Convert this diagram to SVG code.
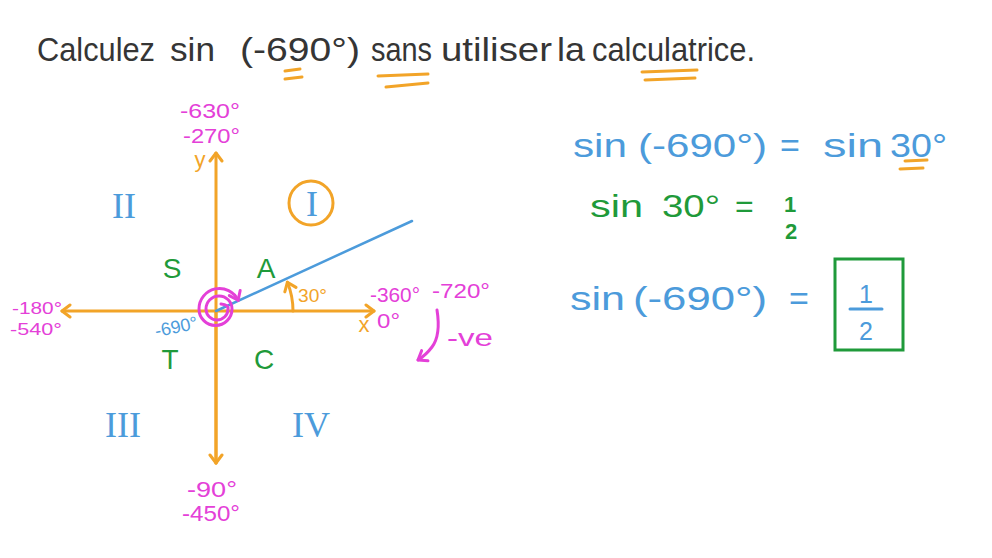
<svg xmlns="http://www.w3.org/2000/svg" width="992" height="558" viewBox="0 0 992 558">
<style>
text{font-family:"Liberation Sans","DejaVu Sans",sans-serif}
.title{fill:#353535;font-size:34px}
.or{stroke:#F2A428;fill:none;stroke-width:3;stroke-linecap:round;stroke-linejoin:round}
.pk{fill:#E440D8;font-size:20px}
.pks{stroke:#E440D8;fill:none;stroke-width:3;stroke-linecap:round;stroke-linejoin:round}
.bl{fill:#4C9BDB}
.gr{fill:#1F9A3A}
.orf{fill:#F2A428}
.rom{font-family:"Liberation Serif","DejaVu Serif",serif;font-size:36px;fill:#4C9BDB;text-anchor:middle}
.quad{font-size:28px;fill:#1F9A3A;text-anchor:middle}
.eqb{fill:#4C9BDB;font-size:34px}
.eqg{fill:#1F9A3A;font-size:32px}
</style>
<defs>
<marker id="ao" viewBox="-10 -8 12 16" markerWidth="12" markerHeight="16" refX="0" refY="0" orient="auto" markerUnits="userSpaceOnUse">
<path d="M-8,-6 L0,0 L-8,6" fill="none" stroke="#F2A428" stroke-width="3" stroke-linecap="round" stroke-linejoin="round"/>
</marker>
<marker id="ap" viewBox="-10 -8 12 16" markerWidth="12" markerHeight="16" refX="0" refY="0" orient="auto" markerUnits="userSpaceOnUse">
<path d="M-8,-6 L0,0 L-8,6" fill="none" stroke="#E440D8" stroke-width="3" stroke-linecap="round" stroke-linejoin="round"/>
</marker>
</defs>
<rect width="992" height="558" fill="#ffffff"/>

<!-- title -->
<text class="title" y="61"><tspan x="37" textLength="118" lengthAdjust="spacingAndGlyphs">Calculez</tspan> <tspan x="170" textLength="45" lengthAdjust="spacingAndGlyphs">sin</tspan> <tspan x="240" textLength="120" lengthAdjust="spacingAndGlyphs">(-690°)</tspan> <tspan x="371" textLength="61" lengthAdjust="spacingAndGlyphs">sans</tspan> <tspan x="441" textLength="111" lengthAdjust="spacingAndGlyphs">utiliser</tspan> <tspan x="557" textLength="28" lengthAdjust="spacingAndGlyphs">la</tspan> <tspan x="592" textLength="163" lengthAdjust="spacingAndGlyphs">calculatrice.</tspan></text>
<g class="or">
<line x1="285" y1="71" x2="300" y2="69"/><line x1="285" y1="79" x2="302" y2="77"/>
<line x1="378" y1="76" x2="428" y2="74"/><line x1="386" y1="87" x2="428" y2="83"/>
<line x1="642" y1="72" x2="697" y2="70"/><line x1="645" y1="80" x2="695" y2="78"/>
</g>

<!-- axes -->
<g id="axes" class="or">
<line x1="216" y1="463" x2="216" y2="153" marker-end="url(#ao)"/>
<line x1="216" y1="311" x2="216" y2="463" marker-end="url(#ao)"/>
<line x1="216" y1="311" x2="62" y2="311" marker-end="url(#ao)"/>
<line x1="216" y1="311" x2="374" y2="311" marker-end="url(#ao)"/>
<path d="M293,311 A77,77 0 0 0 287.4,282.2" marker-end="url(#ao)"/>
</g>
<text x="200" y="167" class="orf" font-size="22" text-anchor="middle">y</text>
<text x="364" y="332" class="orf" font-size="22" text-anchor="middle">x</text>
<text x="298" y="302" class="orf" font-size="18" textLength="29" lengthAdjust="spacingAndGlyphs">30°</text>

<!-- terminal side -->
<line x1="216" y1="311" x2="412" y2="221" stroke="#4C9BDB" stroke-width="2.5" stroke-linecap="round"/>

<!-- spiral -->
<path class="pks" d="M221,304 Q229,305 228,309 A11,11 0 0 1 206,309 A13,13 0 0 1 232,309 A16.5,16.5 0 0 1 199,309 A20.5,20.5 0 0 1 238.1,300.3" marker-end="url(#ap)"/>
<text x="176" y="333" class="bl" font-size="18" text-anchor="middle" transform="rotate(-12 176 326)">-690°</text>

<!-- quadrant letters -->
<text x="172" y="278" class="quad">S</text>
<text x="266" y="278" class="quad">A</text>
<text x="170" y="369" class="quad">T</text>
<text x="264" y="369" class="quad">C</text>

<!-- roman numerals -->
<text x="124" y="218" class="rom">II</text>
<circle cx="311" cy="203" r="22" class="or" stroke-width="2.5"/>
<text x="312" y="216" class="rom">I</text>
<text x="123" y="437" class="rom">III</text>
<text x="311" y="437" class="rom">IV</text>

<!-- pink angle labels -->
<g class="pk">
<text x="180" y="118" textLength="60" lengthAdjust="spacingAndGlyphs">-630°</text>
<text x="183" y="143" textLength="57" lengthAdjust="spacingAndGlyphs">-270°</text>
<text x="12" y="314" font-size="17" textLength="50" lengthAdjust="spacingAndGlyphs">-180°</text>
<text x="10" y="335" font-size="17" textLength="52" lengthAdjust="spacingAndGlyphs">-540°</text>
<text x="370" y="302" textLength="50" lengthAdjust="spacingAndGlyphs">-360°</text>
<text x="432" y="298" textLength="58" lengthAdjust="spacingAndGlyphs">-720°</text>
<text x="377" y="328" textLength="23" lengthAdjust="spacingAndGlyphs">0°</text>
<text x="187" y="497" font-size="22" textLength="50" lengthAdjust="spacingAndGlyphs">-90°</text>
<text x="182" y="521" font-size="22" textLength="58" lengthAdjust="spacingAndGlyphs">-450°</text>
<text x="447" y="346" font-size="24" textLength="46" lengthAdjust="spacingAndGlyphs">-ve</text>
</g>
<path class="pks" d="M437,310 Q441,335 432,347 Q426,355 418,360" marker-end="url(#ap)"/>

<!-- equations -->
<text class="eqb" y="157"><tspan x="573" textLength="54" lengthAdjust="spacingAndGlyphs">sin</tspan> <tspan x="638" textLength="129" lengthAdjust="spacingAndGlyphs">(-690°)</tspan> <tspan x="780">=</tspan> <tspan x="823" textLength="60" lengthAdjust="spacingAndGlyphs">sin</tspan> <tspan x="890" textLength="57" lengthAdjust="spacingAndGlyphs">30°</tspan></text>
<g class="or">
<line x1="905" y1="161" x2="927" y2="160"/><line x1="900" y1="169" x2="923" y2="168"/>
</g>

<text class="eqg" y="217"><tspan x="590" textLength="53" lengthAdjust="spacingAndGlyphs">sin</tspan> <tspan x="662" textLength="58" lengthAdjust="spacingAndGlyphs">30°</tspan> <tspan x="735">=</tspan></text>
<text class="gr" x="790" y="212" font-size="22" font-weight="bold" text-anchor="middle">1</text>
<text class="gr" x="791" y="239" font-size="22" font-weight="bold" text-anchor="middle">2</text>

<text class="eqb" y="310"><tspan x="570" textLength="55" lengthAdjust="spacingAndGlyphs">sin</tspan> <tspan x="633" textLength="134" lengthAdjust="spacingAndGlyphs">(-690°)</tspan> <tspan x="789">=</tspan></text>
<rect x="835" y="259" width="68" height="91" fill="none" stroke="#1F9A3A" stroke-width="3"/>
<text class="bl" x="866" y="303" font-size="25" text-anchor="middle">1</text>
<line x1="850" y1="309" x2="882" y2="309" stroke="#4C9BDB" stroke-width="3" stroke-linecap="round"/>
<text class="bl" x="866" y="340" font-size="25" text-anchor="middle">2</text>
</svg>
